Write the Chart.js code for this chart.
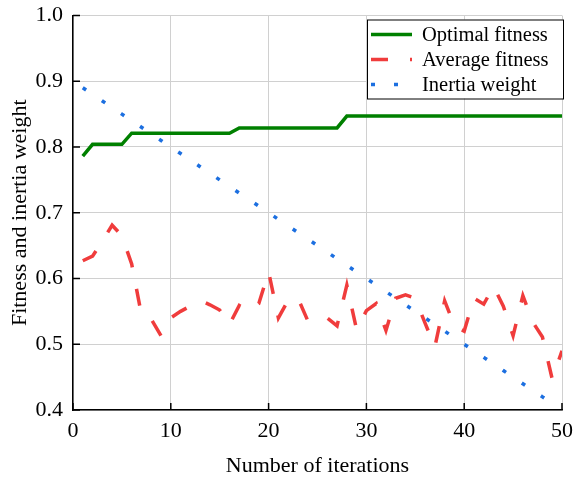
<!DOCTYPE html>
<html>
<head>
<meta charset="utf-8">
<script src="https://cdn.jsdelivr.net/npm/chart.js@4/dist/chart.umd.min.js"></script>
<style>
  body { margin: 0; background: #fff; }
  canvas { display: block; }
</style>
</head>
<body>
<canvas id="grafica" width="575" height="479"></canvas>
<script>
// numero de iteraciones
var iteraciones = [1,2,3,4,5,6,7,8,9,10,11,12,13,14,15,16,17,18,19,20,21,22,23,24,25,
  26,27,28,29,30,31,32,33,34,35,36,37,38,39,40,41,42,43,44,45,46,47,48,49,50];

var optimo = [0.786,0.804,0.804,0.804,0.804,0.821,0.821,0.821,0.821,0.821,0.821,0.821,0.821,
  0.821,0.821,0.821,0.829,0.829,0.829,0.829,0.829,0.829,0.829,0.829,0.829,0.829,0.829,
  0.847,0.847,0.847,0.847,0.847,0.847,0.847,0.847,0.847,0.847,0.847,0.847,0.847,0.847,
  0.847,0.847,0.847,0.847,0.847,0.847,0.847,0.847,0.847];

var promedio = [0.627,0.634,0.657,0.681,0.665,0.622,0.545,0.538,0.513,0.540,0.550,0.558,0.567,
  0.560,0.552,0.530,0.559,0.550,0.562,0.610,0.540,0.567,0.570,0.536,0.535,0.540,0.528,
  0.590,0.522,0.551,0.562,0.521,0.570,0.575,0.570,0.532,0.496,0.566,0.528,0.520,0.570,
  0.561,0.588,0.558,0.513,0.574,0.534,0.511,0.447,0.490];

// peso de inercia (iteraciones 1..49)
var inercia = [0.89,0.88,0.87,0.86,0.85,0.84,0.83,0.82,0.81,0.80,0.79,0.78,0.77,0.76,0.75,
  0.74,0.73,0.72,0.71,0.70,0.69,0.68,0.67,0.66,0.65,0.64,0.63,0.62,0.61,0.60,0.59,0.58,
  0.57,0.56,0.55,0.54,0.53,0.52,0.51,0.50,0.49,0.48,0.47,0.46,0.45,0.44,0.43,0.42,0.41];

var etiquetas = ['Optimal fitness', 'Average fitness', 'Inertia weight'];
var ticksX = [0,10,20,30,40,50];
var ticksY = [0.4,0.5,0.6,0.7,0.8,0.9,1.0];

var fuente = '"Liberation Serif", "Times New Roman", serif';

pares = (vals) => vals.map((v, i) => ({x: iteraciones[i], y: v}));

// ticks hacia adentro + leyenda con recuadro
var extras = {
  id: 'extras',
  afterDraw: (chart) => {
    var ctx = chart.ctx;
    var a = chart.chartArea;
    var sx = chart.scales.x, sy = chart.scales.y;
    ctx.save();
    ctx.strokeStyle = '#000';
    ctx.lineWidth = 1.5;
    ctx.beginPath();
    ticksX.forEach((t) => {
      var px = sx.getPixelForValue(t);
      ctx.moveTo(px, a.bottom);
      ctx.lineTo(px, a.bottom - 7);
    });
    ticksY.forEach((t) => {
      var py = sy.getPixelForValue(t);
      ctx.moveTo(a.left, py);
      ctx.lineTo(a.left + 7, py);
    });
    ctx.stroke();

    // leyenda
    var bx = a.right - 195, by = a.top + 4, bw = 196, bh = 79;
    ctx.fillStyle = '#fff';
    ctx.fillRect(bx, by, bw, bh);
    ctx.lineWidth = 1;
    ctx.strokeStyle = '#000';
    ctx.strokeRect(bx + 0.5, by + 0.5, bw, bh);
    ctx.font = '20.5px ' + fuente;
    ctx.textBaseline = 'middle';
    chart.data.datasets.forEach((ds, i) => {
      var y = by + 15 + i * 25;
      ctx.beginPath();
      ctx.strokeStyle = ds.borderColor;
      ctx.lineWidth = ds.borderWidth;
      ctx.lineCap = 'butt';
      ctx.setLineDash(ds.borderDash || []);
      ctx.moveTo(bx + 4, y);
      ctx.lineTo(bx + 45, y);
      ctx.stroke();
      ctx.setLineDash([]);
      ctx.fillStyle = '#000';
      ctx.fillText(ds.label, bx + 55, y + 1);
    });
    ctx.restore();
  }
};

var ctx = document.getElementById('grafica').getContext('2d');
var chart = new Chart(ctx, {
  type: 'line',
  data: {
    datasets: [{
      label: etiquetas[0],
      data: pares(optimo),
      borderColor: '#008000',
      borderWidth: 3.5,
      pointRadius: 0,
      tension: 0
    }, {
      label: etiquetas[1],
      data: pares(promedio),
      borderColor: '#f03c3c',
      borderWidth: 3.5,
      borderDash: [17, 22],
      pointRadius: 0,
      tension: 0
    }, {
      label: etiquetas[2],
      data: pares(inercia),
      borderColor: '#1c6fe0',
      borderWidth: 3.5,
      borderDash: [4, 19],
      pointRadius: 0,
      tension: 0
    }]
  },
  options: {
    responsive: false,
    animation: false,
    layout: { padding: { top: 15.5, right: 13, left: 0, bottom: 0 } },
    plugins: { legend: { display: false }, tooltip: { enabled: false } },
    scales: {
      x: {
        type: 'linear',
        min: 0, max: 50,
        afterFit: (s) => { s.height = 69; s.paddingLeft = 0; s.paddingRight = 0; },
        afterBuildTicks: (s) => { s.ticks = ticksX.map((v) => ({value: v})); },
        grid: { color: '#d0d0d0', lineWidth: 1, drawTicks: false },
        border: { color: '#000', width: 1.5 },
        ticks: { padding: 8, color: '#000', font: { family: fuente, size: 22 }, maxRotation: 0 },
        title: {
          display: true, text: 'Number of iterations', color: '#000',
          font: { family: fuente, size: 22 }, padding: { top: 0, bottom: 0 }
        }
      },
      y: {
        min: 0.4, max: 1.0,
        afterFit: (s) => { s.width = 73; s.paddingTop = 0; s.paddingBottom = 0; },
        afterBuildTicks: (s) => { s.ticks = ticksY.map((v) => ({value: v})); },
        grid: { color: '#d0d0d0', lineWidth: 1, drawTicks: false },
        border: { color: '#000', width: 1.5 },
        ticks: {
          padding: 10, color: '#000', font: { family: fuente, size: 22 },
          callback: (v) => v.toFixed(1)
        },
        title: {
          display: true, text: 'Fitness and inertia weight', color: '#000',
          font: { family: fuente, size: 22 }, padding: { top: 7, bottom: 0 }
        }
      }
    }
  },
  plugins: [extras]
});
</script>
</body>
</html>
